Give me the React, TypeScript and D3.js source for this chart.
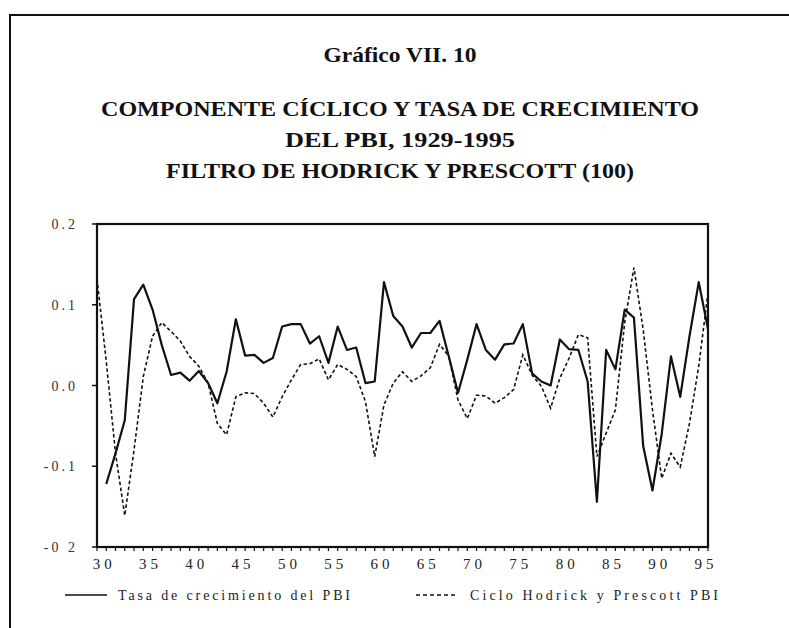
import React from 'react'
import * as d3 from 'd3'

const years = [
  1929, 1930, 1931, 1932, 1933, 1934, 1935, 1936, 1937, 1938, 1939, 1940,
  1941, 1942, 1943, 1944, 1945, 1946, 1947, 1948, 1949, 1950, 1951, 1952,
  1953, 1954, 1955, 1956, 1957, 1958, 1959, 1960, 1961, 1962, 1963, 1964,
  1965, 1966, 1967, 1968, 1969, 1970, 1971, 1972, 1973, 1974, 1975, 1976,
  1977, 1978, 1979, 1980, 1981, 1982, 1983, 1984, 1985, 1986, 1987, 1988,
  1989, 1990, 1991, 1992, 1993, 1994, 1995,
]

// tasa de crecimiento del PBI (no hay dato en 1929)
const growth = [
  null, -0.122, -0.084, -0.043, 0.107, 0.125, 0.094, 0.05, 0.013, 0.016, 0.006, 0.018,
  0.003, -0.022, 0.017, 0.082, 0.037, 0.038, 0.028, 0.034, 0.073, 0.076, 0.076, 0.052,
  0.061, 0.028, 0.073, 0.044, 0.047, 0.003, 0.005, 0.128, 0.086, 0.073, 0.047, 0.065,
  0.065, 0.08, 0.036, -0.009, 0.032, 0.076, 0.044, 0.032, 0.051, 0.052, 0.076, 0.015,
  0.005, 0.0, 0.057, 0.045, 0.044, 0.005, -0.144, 0.044, 0.02, 0.094, 0.084, -0.075,
  -0.13, -0.06, 0.036, -0.014, 0.061, 0.128, 0.07,
]

// ciclo Hodrick y Prescott
const cycle = [
  0.132, 0.03, -0.084, -0.161, -0.08, 0.011, 0.061, 0.078, 0.067, 0.055, 0.036, 0.024,
  0.003, -0.047, -0.061, -0.014, -0.009, -0.01, -0.022, -0.039, -0.014, 0.007, 0.026, 0.027,
  0.033, 0.007, 0.026, 0.02, 0.011, -0.02, -0.088, -0.024, 0.003, 0.017, 0.005, 0.012,
  0.022, 0.051, 0.036, -0.018, -0.041, -0.012, -0.013, -0.022, -0.015, -0.005, 0.038, 0.013,
  -0.001, -0.028, 0.009, 0.034, 0.063, 0.059, -0.088, -0.059, -0.03, 0.078, 0.146, 0.069,
  -0.03, -0.115, -0.084, -0.101, -0.047, 0.024, 0.115,
]

const yTicks = [0.2, 0.1, 0.0, -0.1, -0.2]
const yTickLabels = ['0.2', '0.1', '0.0', '-0.1', '-0 2']
const xTickYears = [1930, 1935, 1940, 1945, 1950, 1955, 1960, 1965, 1970, 1975, 1980, 1985, 1990, 1995]
const xTickLabels = ['30', '35', '40', '45', '50', '55', '60', '65', '70', '75', '80', '85', '90', '95']

const titles = [
  'Gráfico VII. 10',
  'COMPONENTE CÍCLICO Y TASA DE CRECIMIENTO',
  'DEL PBI, 1929-1995',
  'FILTRO DE HODRICK Y PRESCOTT (100)',
]
const legendLabels = ['Tasa de crecimiento del PBI', 'Ciclo Hodrick y Prescott PBI']

export default function App() {
  const width = 789
  const height = 628
  const left = 97, right = 708, top = 224, bottom = 547

  const x = d3.scaleLinear().domain([1929, 1995]).range([left, right])
  const y = d3.scaleLinear().domain([-0.2, 0.2]).range([bottom, top])

  const line = d3.line<[number, number | null]>()
    .defined(d => d[1] !== null)
    .x(d => x(d[0]))
    .y(d => y(d[1] as number))

  const growthPath = line(years.map((yr, i) => [yr, growth[i]]))
  const cyclePath = line(years.map((yr, i) => [yr, cycle[i]]))

  const serif = '"Liberation Serif", "Times New Roman", serif'
  const titleY = [62, 116, 147, 178]
  const titleSize = [21, 22, 22, 22]
  const titleW: (number | undefined)[] = [153, 598, 230, 468]

  return (
    <svg width={width} height={height} style={{ position: 'absolute', left: 0, top: 0, background: '#fff' }}>
      {/* marco de la página */}
      <line x1={10} y1={15} x2={789} y2={15} stroke="#111" strokeWidth={2} />
      <line x1={10} y1={14} x2={10} y2={628} stroke="#111" strokeWidth={2} />

      {titles.map((t, i) => (
        <text key={t} x={400} y={titleY[i]} textAnchor="middle" fontFamily={serif}
          fontWeight="bold" fontSize={titleSize[i]} fill="#111"
          textLength={titleW[i]} lengthAdjust="spacingAndGlyphs">{t}</text>
      ))}

      {/* caja del gráfico */}
      <rect x={left} y={top} width={right - left} height={bottom - top} fill="none" stroke="#111" strokeWidth={2.2} />

      {/* eje y */}
      {yTicks.map((v, i) => (
        <g key={v}>
          <line x1={left - 5} x2={left} y1={y(v)} y2={y(v)} stroke="#111" strokeWidth={1.5} />
          <text x={78} y={y(v) + 5} textAnchor="end" fontFamily={serif} fontSize={14}
            letterSpacing={3} fill="#333">{yTickLabels[i]}</text>
        </g>
      ))}

      {/* eje x: marcas anuales */}
      {years.map(yr => (
        <line key={yr} x1={x(yr)} x2={x(yr)} y1={bottom} y2={bottom + 4} stroke="#111" strokeWidth={1.2} />
      ))}
      {xTickYears.map((yr, i) => (
        <text key={yr} x={x(yr) - 2} y={569} textAnchor="middle" fontFamily={serif} fontSize={15}
          letterSpacing={4} fill="#222">{xTickLabels[i]}</text>
      ))}

      <path d={cyclePath ?? ''} fill="none" stroke="#111" strokeWidth={1.6} strokeDasharray="3.5,2.5" />
      <path d={growthPath ?? ''} fill="none" stroke="#111" strokeWidth={2.2} strokeLinejoin="round" />

      {/* leyenda */}
      <line x1={65} x2={107} y1={595} y2={595} stroke="#111" strokeWidth={1.5} />
      <text x={118} y={600} fontFamily={serif} fontSize={14} fill="#222"
        textLength={232} lengthAdjust="spacing">{legendLabels[0]}</text>
      <line x1={416} x2={455} y1={595} y2={595} stroke="#111" strokeWidth={1.5} strokeDasharray="4,3" />
      <text x={470} y={600} fontFamily={serif} fontSize={14} fill="#222"
        textLength={248} lengthAdjust="spacing">{legendLabels[1]}</text>
    </svg>
  )
}
